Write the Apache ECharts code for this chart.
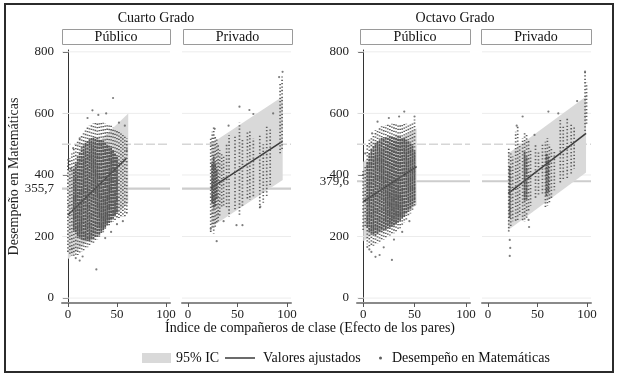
<!DOCTYPE html>
<html>
<head>
<meta charset="utf-8">
<script src="https://cdn.jsdelivr.net/npm/echarts@6/dist/echarts.min.js"></script>
<style>
  html, body { margin: 0; padding: 0; background: #fff; }
  #chart { width: 620px; height: 380px; }
</style>
</head>
<body>
<div id="chart"></div>
<script>
// --- data ---
const gradeTitles = ['Cuarto Grado', 'Octavo Grado']
const sectorLabels = ['Público', 'Privado']
const xTicks = [0, 50, 100]
const yTicksCuarto = [0, 200, 355.7, 400, 600, 800]
const yTicksOctavo = [0, 200, 379.6, 400, 600, 800]
const gridLines = [0, 200, 400, 600, 800]
const dashedLine = 500
const meanCuarto = 355.7
const meanOctavo = 379.6

// 95% IC band ends: [x, low, high]
const bandCuartoPub  = [[0, 126, 413], [61.5, 308, 600]]
const bandCuartoPriv = [[24, 232, 503], [95.6, 384, 655]]
const bandOctavoPub  = [[0, 185, 443], [52, 302, 552]]
const bandOctavoPriv = [[20.5, 221, 470], [99, 408, 655]]

// fitted values: [x, y]
const fitCuartoPub  = [[0, 270], [60, 455]]
const fitCuartoPriv = [[23, 357], [95.6, 510]]
const fitOctavoPub  = [[0, 313], [52, 427]]
const fitOctavoPriv = [[20.5, 340], [99, 535]]

// point columns (sparse spread): [x, lowest, highest]
const haloCuartoPub = [[0,150,440],[2,140,455],[4,138,470],[6,136,485],[8,135,500],[10,140,510],[12,145,520],[14,150,530],[16,155,540],[18,160,550],[20,165,555],[22,170,560],[24,175,565],[26,180,568],[28,185,570],[30,190,572],[32,198,572],[34,206,572],[36,214,570],[38,222,568],[40,230,566],[42,236,563],[44,242,560],[46,247,555],[48,252,550],[50,256,545],[52,260,540],[54,262,535],[56,264,530],[58,265,525],[60,270,520]]
// dense cores: [x, low, high]
const coreCuartoPub = [[6,220,420],[8,210,440],[10,200,460],[12,195,475],[14,190,490],[16,188,500],[18,186,505],[20,185,510],[22,186,515],[24,188,520],[26,192,522],[28,196,522],[30,200,520],[32,206,518],[34,212,515],[36,220,510],[38,228,505],[40,236,500],[42,244,495],[44,252,490],[46,260,480],[48,268,470],[50,275,460]]
const dotsCuartoPub = [[0.3,449],[5.4,487],[12,519],[25,610],[31,595],[39,600],[46,650],[20,585],[58,560],[60,480],[29,93],[8,130],[12,122],[15,135],[4,160],[38,195],[44,215],[50,240],[56,250],[3,420],[1,300],[52,570]]

const haloCuartoPriv = [[23,215,520],[24.5,225,540],[26,210,557],[27.5,230,530],[29,240,515],[30.5,250,500],[32,265,480],[34,290,470],[36,300,460],[39,290,500],[41.5,264,530],[47.5,286,525],[52,264,570],[55,300,520],[60,320,540],[62.5,319,541],[66,330,520],[72.5,286,530],[76,310,500],[79.5,329,560],[83,360,550],[93,470,700],[95,480,720]]
const coreCuartoPriv = [[24.5,309,439],[26,290,460],[27.5,300,440],[29,320,420]]
const dotsCuartoPriv = [[29,185],[52,622],[66,598],[92,718],[95.5,735],[62,611],[41,560],[55,237],[36,250],[49,237],[73,297],[86,600],[23,225],[27,550]]

const haloOctavoPub = [[0,221,416],[2,230,430],[4,175,500],[6,167,514],[8,167,525],[10,170,535],[12,175,545],[14,178,550],[16,182,555],[18,186,558],[20,190,560],[22,195,562],[24,199,563],[26,203,565],[28,207,566],[30,211,567],[32,216,568],[34,220,568],[36,227,568],[38,235,568],[40,245,568],[42,255,566],[44,265,566],[46,275,566],[48,285,570],[50,295,580]]
const coreOctavoPub = [[4,230,440],[6,215,470],[8,210,485],[10,205,495],[12,205,505],[14,210,510],[16,212,515],[18,215,520],[20,218,522],[22,220,525],[24,225,525],[26,228,525],[28,232,525],[30,236,525],[32,240,525],[34,245,525],[36,250,525],[38,258,520],[40,265,520],[42,272,515],[44,280,510],[46,290,505],[48,300,500],[50,310,480]]
const dotsOctavoPub = [[40,606],[14,573],[8.7,535],[4,166],[8,150],[12,134],[28,124],[16,140],[20,165],[6,158],[45,250],[50,590],[35,590],[25,585],[2,470],[0,400],[30,190],[38,215]]

const haloOctavoPriv = [[21,216,492],[23,230,470],[25,250,460],[28,250,540],[30,248,563],[32,270,500],[35,250,520],[37,248,541],[39,260,530],[41,280,510],[43,300,480],[48,324,503],[51,330,480],[55,340,500],[58,292,508],[60,300,520],[62,310,500],[64,320,490],[67,350,480],[73,373,579],[76,380,560],[80,390,585],[84,400,570],[87,420,560],[98,541,736],[99.5,560,700]]
const coreOctavoPriv = [[22,260,430],[37,313,476],[39,320,460],[59,330,470],[61,340,460]]
const dotsOctavoPriv = [[22,189],[22.5,163],[22,137],[41,254],[41.5,231],[61,606],[35,590],[29,560],[71,600],[98,736],[47,530],[90,640]]

// --- layout ---
const FONT = 'Liberation Serif'
const X_MIN = -6, X_MAX = 104, Y_MIN = -16, Y_MAX = 806
const grids = [
  { left: 62,  top: 50, width: 108, height: 253 },
  { left: 182, top: 50, width: 109, height: 253 },
  { left: 357, top: 50, width: 113, height: 253 },
  { left: 482, top: 50, width: 109, height: 253 },
]
const headerBoxes = [[62, 170], [183, 292], [360, 470], [481, 591]]
const gradeCenters = [156, 455]

const panels = [
  { band: bandCuartoPub,  fit: fitCuartoPub,  halo: haloCuartoPub,  core: coreCuartoPub,  dots: dotsCuartoPub,  mean: meanCuarto, ticks: yTicksCuarto },
  { band: bandCuartoPriv, fit: fitCuartoPriv, halo: haloCuartoPriv, core: coreCuartoPriv, dots: dotsCuartoPriv, mean: meanCuarto, ticks: null },
  { band: bandOctavoPub,  fit: fitOctavoPub,  halo: haloOctavoPub,  core: coreOctavoPub,  dots: dotsOctavoPub,  mean: meanOctavo, ticks: yTicksOctavo },
  { band: bandOctavoPriv, fit: fitOctavoPriv, halo: haloOctavoPriv, core: coreOctavoPriv, dots: dotsOctavoPriv, mean: meanOctavo, ticks: null },
]

const DOT = '#5e5e5e'
const BAND = '#d9d9d9'

// columns of points are drawn as dashed vertical strokes; the dash phase is
// shifted per column so the speckle does not line up into horizontal bands
function stripeRenderer(width, dash, color) {
  const period = dash[0] + dash[1]
  return (params, api) => {
    const a = api.coord([api.value(0), api.value(1)])
    const b = api.coord([api.value(0), api.value(2)])
    return {
      type: 'line',
      shape: { x1: a[0], y1: a[1], x2: b[0], y2: b[1] },
      style: { stroke: color, lineWidth: width, lineDash: dash, lineDashOffset: (params.dataIndex * 1.618 * period) % period },
    }
  }
}

function bandRenderer(band) {
  return (params, api) => {
    if (params.dataIndex !== 0) return
    const pts = [
      api.coord([band[0][0], band[0][1]]),
      api.coord([band[1][0], band[1][1]]),
      api.coord([band[1][0], band[1][2]]),
      api.coord([band[0][0], band[0][2]]),
    ]
    return { type: 'polygon', shape: { points: pts }, style: { fill: BAND } }
  }
}

const xAxis = grids.map((g, i) => ({
  gridIndex: i, type: 'value', min: X_MIN, max: X_MAX,
  axisLine: { show: true, onZero: false, lineStyle: { color: '#8a8a8a', width: 2 } },
  axisTick: { show: true, customValues: xTicks, length: 4, lineStyle: { color: '#555' } },
  axisLabel: { customValues: xTicks, margin: 5, fontFamily: FONT, fontSize: 13, color: '#222' },
  splitLine: { show: false },
}))

const yAxis = panels.map((p, i) => p.ticks ? {
  gridIndex: i, type: 'value', min: Y_MIN, max: Y_MAX,
  name: i === 0 ? 'Desempeño en Matemáticas' : '',
  nameLocation: 'middle', nameGap: 26, nameRotate: 90,
  nameTextStyle: { fontFamily: FONT, fontSize: 14, color: '#222' },
  axisLine: { show: true, lineStyle: { color: '#333', width: 1 } },
  axisTick: { show: true, customValues: p.ticks, length: 5, lineStyle: { color: '#333' } },
  axisLabel: { customValues: p.ticks, margin: 8, fontFamily: FONT, fontSize: 13, color: '#222',
    formatter: v => String(v).replace('.', ',') },
  splitLine: { show: false },
} : {
  gridIndex: i, type: 'value', min: Y_MIN, max: Y_MAX, show: false, splitLine: { show: false },
})

// horizontal reference lines drawn as plain line series under everything
function refLine(i, v, style) {
  return {
    type: 'line', xAxisIndex: i, yAxisIndex: i, z: 0, silent: true, showSymbol: false,
    data: [[X_MIN, v], [X_MAX, v]], lineStyle: style,
  }
}

const series = []
panels.forEach((p, i) => {
  gridLines.forEach(v => series.push(refLine(i, v, { color: '#ececec', width: 1 })))
  series.push(refLine(i, dashedLine, { color: '#d6d6d6', width: 1.5, type: [9, 3] }))
  series.push(refLine(i, p.mean, { color: '#cdcdcd', width: 2.2 }))
  series.push({
    name: '95% IC', type: 'custom', xAxisIndex: i, yAxisIndex: i, z: 1,
    itemStyle: { color: BAND }, data: p.band, renderItem: bandRenderer(p.band),
    encode: { x: 0, y: [1, 2] },
  })
  series.push({
    name: 'Valores ajustados', type: 'line', xAxisIndex: i, yAxisIndex: i, z: 2,
    showSymbol: false, data: p.fit, lineStyle: { color: '#3a3a3a', width: 1.5 }, itemStyle: { color: '#3a3a3a' },
  })
  series.push({
    name: 'Desempeño en Matemáticas', type: 'custom', xAxisIndex: i, yAxisIndex: i, z: 3,
    itemStyle: { color: DOT }, data: p.halo, renderItem: stripeRenderer(1.7, [1.3, 2.1], DOT),
    encode: { x: 0, y: [1, 2] },
  })
  series.push({
    name: 'Desempeño en Matemáticas', type: 'custom', xAxisIndex: i, yAxisIndex: i, z: 4,
    itemStyle: { color: DOT }, data: p.core, renderItem: stripeRenderer(1.8, [2.6, 0.7], '#565656'),
    encode: { x: 0, y: [1, 2] },
  })
  series.push({
    name: 'Desempeño en Matemáticas', type: 'scatter', xAxisIndex: i, yAxisIndex: i, z: 4,
    symbolSize: 2.2, itemStyle: { color: DOT }, data: p.dots,
  })
})

const legendText = { fontFamily: FONT, fontSize: 14, color: '#111' }
const legend = [
  { data: [{ name: '95% IC', icon: 'rect' }], left: 137, top: 346, itemWidth: 29, itemHeight: 10,
    textStyle: legendText, selectedMode: false },
  { data: [{ name: 'Valores ajustados', icon: 'rect' }], left: 220, top: 346, itemWidth: 30, itemHeight: 1.5,
    textStyle: { ...legendText, padding: [0, 0, 0, 3] }, selectedMode: false },
  { data: [{ name: 'Desempeño en Matemáticas', icon: 'circle' }], left: 374, top: 346, itemWidth: 3, itemHeight: 3,
    textStyle: { ...legendText, padding: [0, 0, 0, 5] }, selectedMode: false },
]

const textStyle = (x, y, text) => ({
  type: 'text', x, y, silent: true,
  style: { text, font: '14px "' + FONT + '"', fill: '#111', align: 'center', verticalAlign: 'middle',
    textAlign: 'center', textVerticalAlign: 'middle' },
})

const graphic = [
  { type: 'rect', shape: { x: 5, y: 4, width: 608, height: 368 }, style: { fill: 'none', stroke: '#2b2b2b', lineWidth: 2 }, silent: true },
  ...gradeTitles.map((t, i) => textStyle(gradeCenters[i], 18, t)),
  ...headerBoxes.map(([x0, x1]) => ({
    type: 'rect', shape: { x: x0 + 0.5, y: 29.5, width: x1 - x0, height: 15 },
    style: { fill: '#fff', stroke: '#9a9a9a', lineWidth: 1 }, silent: true,
  })),
  ...headerBoxes.map(([x0, x1], i) => textStyle((x0 + x1) / 2, 37.5, sectorLabels[i % 2])),
  textStyle(310, 328, 'Índice de compañeros de clase (Efecto de los pares)'),
]

const chart = echarts.init(document.getElementById('chart'))
chart.setOption({
  animation: false,
  backgroundColor: '#fff',
  grid: grids,
  xAxis, yAxis, series, legend, graphic,
})
</script>
</body>
</html>
